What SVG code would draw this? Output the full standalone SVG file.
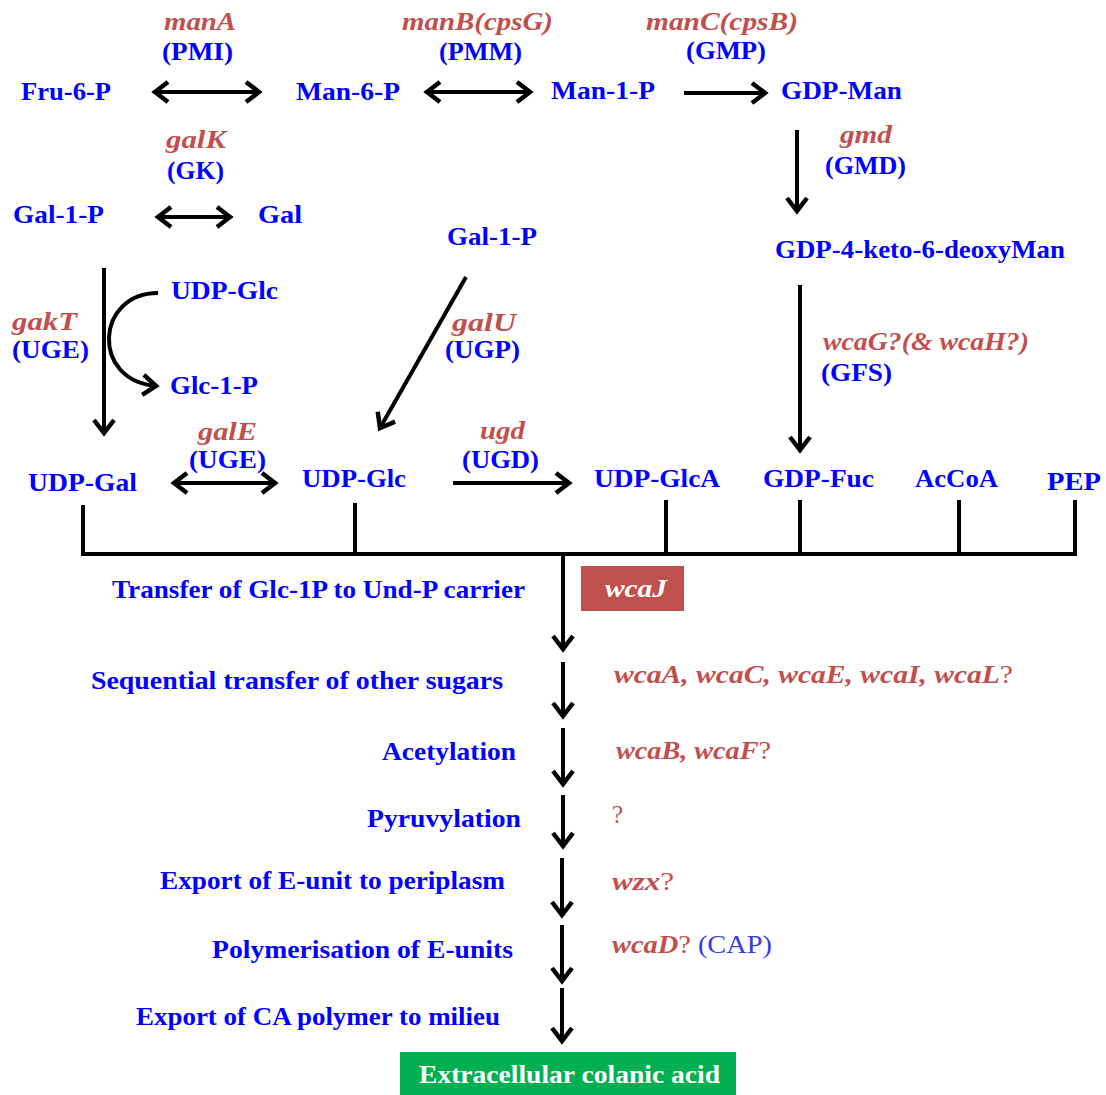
<svg xmlns="http://www.w3.org/2000/svg" width="1106" height="1095" viewBox="0 0 1106 1095">
<style>
text{font-family:"Liberation Serif","Times New Roman",serif;font-size:25px;font-weight:bold}
.n{fill:#0000ff}
.g{fill:#c0504d;font-style:italic}
.q{font-style:normal;font-weight:normal}
.w{fill:#ffffff}
.c{fill:none;stroke:#000;stroke-width:4}
</style>
<defs>
<marker id="ah" viewBox="0 0 18 24" refX="15" refY="12" markerWidth="18" markerHeight="24" orient="auto-start-reverse" markerUnits="userSpaceOnUse" overflow="visible">
<path d="M2,2 L15,12 L2,22" fill="none" stroke="#000" stroke-width="4.5"/>
</marker>
</defs>
<rect width="1106" height="1095" fill="#fff"/>
<g id="connectors">
<line class="c" x1="155" y1="92" x2="259" y2="92" marker-start="url(#ah)" marker-end="url(#ah)"/>
<line class="c" x1="427" y1="92" x2="530" y2="92" marker-start="url(#ah)" marker-end="url(#ah)"/>
<line class="c" x1="684" y1="93" x2="765" y2="93" marker-end="url(#ah)"/>
<line class="c" x1="797" y1="130" x2="797" y2="211" marker-end="url(#ah)"/>
<line class="c" x1="158" y1="217" x2="230" y2="217" marker-start="url(#ah)" marker-end="url(#ah)"/>
<line class="c" x1="104" y1="268" x2="104" y2="433" marker-end="url(#ah)"/>
<path class="c" d="M158,293 C96,293 90,380 156,386" marker-end="url(#ah)"/>
<line class="c" x1="466" y1="277" x2="380" y2="428" marker-end="url(#ah)"/>
<line class="c" x1="174" y1="483" x2="275" y2="483" marker-start="url(#ah)" marker-end="url(#ah)"/>
<line class="c" x1="453" y1="483" x2="569" y2="483" marker-end="url(#ah)"/>
<line class="c" x1="800" y1="285" x2="800" y2="450" marker-end="url(#ah)"/>
<path class="c" d="M83,505 V554 H1077 M355,503 V554 M666,500 V554 M800,500 V554 M959,500 V554 M1075,500 V554"/>
<line class="c" x1="563" y1="556" x2="563" y2="649" marker-end="url(#ah)"/>
<line class="c" x1="563" y1="662" x2="563" y2="716" marker-end="url(#ah)"/>
<line class="c" x1="563" y1="728" x2="563" y2="784" marker-end="url(#ah)"/>
<line class="c" x1="563" y1="795" x2="563" y2="846" marker-end="url(#ah)"/>
<line class="c" x1="562" y1="858" x2="562" y2="915" marker-end="url(#ah)"/>
<line class="c" x1="562" y1="925" x2="562" y2="981" marker-end="url(#ah)"/>
<line class="c" x1="562" y1="988" x2="562" y2="1041" marker-end="url(#ah)"/>
</g>
<g id="lbl-manA"><text class="g" x="164" y="30" textLength="72" lengthAdjust="spacingAndGlyphs">manA</text><text class="n" x="162" y="60" textLength="71" lengthAdjust="spacingAndGlyphs">(PMI)</text></g>
<g id="lbl-manB"><text class="g" x="402" y="30" textLength="151" lengthAdjust="spacingAndGlyphs">manB(cpsG)</text><text class="n" x="439" y="60" textLength="83" lengthAdjust="spacingAndGlyphs">(PMM)</text></g>
<g id="lbl-manC"><text class="g" x="646" y="30" textLength="152" lengthAdjust="spacingAndGlyphs">manC(cpsB)</text><text class="n" x="686" y="59" textLength="80" lengthAdjust="spacingAndGlyphs">(GMP)</text></g>
<g id="n-fru6p"><text class="n" x="21" y="100" textLength="90" lengthAdjust="spacingAndGlyphs">Fru-6-P</text></g>
<g id="n-man6p"><text class="n" x="296" y="100" textLength="104" lengthAdjust="spacingAndGlyphs">Man-6-P</text></g>
<g id="n-man1p"><text class="n" x="551" y="99" textLength="104" lengthAdjust="spacingAndGlyphs">Man-1-P</text></g>
<g id="n-gdpman"><text class="n" x="781" y="99" textLength="121" lengthAdjust="spacingAndGlyphs">GDP-Man</text></g>
<g id="lbl-gmd"><text class="g" x="840" y="143" textLength="52" lengthAdjust="spacingAndGlyphs">gmd</text><text class="n" x="825" y="174" textLength="81" lengthAdjust="spacingAndGlyphs">(GMD)</text></g>
<g id="lbl-galK"><text class="g" x="166" y="148" textLength="60" lengthAdjust="spacingAndGlyphs">galK</text><text class="n" x="167" y="179" textLength="57" lengthAdjust="spacingAndGlyphs">(GK)</text></g>
<g id="n-gal1p-a"><text class="n" x="13" y="223" textLength="91" lengthAdjust="spacingAndGlyphs">Gal-1-P</text></g>
<g id="n-gal"><text class="n" x="258" y="223" textLength="44" lengthAdjust="spacingAndGlyphs">Gal</text></g>
<g id="n-gal1p-b"><text class="n" x="447" y="245" textLength="90" lengthAdjust="spacingAndGlyphs">Gal-1-P</text></g>
<g id="n-gdp4keto"><text class="n" x="775" y="258" textLength="290" lengthAdjust="spacingAndGlyphs">GDP-4-keto-6-deoxyMan</text></g>
<g id="n-udpglc-a"><text class="n" x="171" y="299" textLength="107" lengthAdjust="spacingAndGlyphs">UDP-Glc</text></g>
<g id="lbl-gakT"><text class="g" x="12" y="330" textLength="65" lengthAdjust="spacingAndGlyphs">gakT</text><text class="n" x="12" y="358" textLength="77" lengthAdjust="spacingAndGlyphs">(UGE)</text></g>
<g id="lbl-galU"><text class="g" x="452" y="331" textLength="64" lengthAdjust="spacingAndGlyphs">galU</text><text class="n" x="445" y="358" textLength="75" lengthAdjust="spacingAndGlyphs">(UGP)</text></g>
<g id="lbl-wcaG"><text class="g" x="823" y="350" textLength="206" lengthAdjust="spacingAndGlyphs">wcaG?(&amp; wcaH?)</text><text class="n" x="821" y="381" textLength="71" lengthAdjust="spacingAndGlyphs">(GFS)</text></g>
<g id="n-glc1p"><text class="n" x="170" y="394" textLength="88" lengthAdjust="spacingAndGlyphs">Glc-1-P</text></g>
<g id="lbl-galE"><text class="g" x="198" y="440" textLength="59" lengthAdjust="spacingAndGlyphs">galE</text><text class="n" x="189" y="468" textLength="77" lengthAdjust="spacingAndGlyphs">(UGE)</text></g>
<g id="lbl-ugd"><text class="g" x="480" y="439" textLength="45" lengthAdjust="spacingAndGlyphs">ugd</text><text class="n" x="462" y="468" textLength="77" lengthAdjust="spacingAndGlyphs">(UGD)</text></g>
<g id="n-udpgal"><text class="n" x="28" y="491" textLength="109" lengthAdjust="spacingAndGlyphs">UDP-Gal</text></g>
<g id="n-udpglc-b"><text class="n" x="302" y="487" textLength="104" lengthAdjust="spacingAndGlyphs">UDP-Glc</text></g>
<g id="n-udpglca"><text class="n" x="594" y="487" textLength="126" lengthAdjust="spacingAndGlyphs">UDP-GlcA</text></g>
<g id="n-gdpfuc"><text class="n" x="763" y="487" textLength="111" lengthAdjust="spacingAndGlyphs">GDP-Fuc</text></g>
<g id="n-accoa"><text class="n" x="915" y="487" textLength="83" lengthAdjust="spacingAndGlyphs">AcCoA</text></g>
<g id="n-pep"><text class="n" x="1047" y="490" textLength="54" lengthAdjust="spacingAndGlyphs">PEP</text></g>
<g id="step-transfer"><text class="n" x="112" y="598" textLength="413" lengthAdjust="spacingAndGlyphs">Transfer of Glc-1P to Und-P carrier</text></g>
<g id="gene-wcaJ"><rect x="581" y="566" width="103" height="45" fill="#c0504d"/><text class="w" x="605" y="597" font-style="italic" textLength="62" lengthAdjust="spacingAndGlyphs">wcaJ</text></g>
<g id="step-sequential"><text class="n" x="91" y="689" textLength="412" lengthAdjust="spacingAndGlyphs">Sequential transfer of other sugars</text></g>
<g id="gene-wcaA"><text class="g" x="614" y="683" textLength="399" lengthAdjust="spacingAndGlyphs">wcaA, wcaC, wcaE, wcaI, wcaL<tspan class="q">?</tspan></text></g>
<g id="step-acetylation"><text class="n" x="382" y="760" textLength="134" lengthAdjust="spacingAndGlyphs">Acetylation</text></g>
<g id="gene-wcaB"><text class="g" x="616" y="759" textLength="155" lengthAdjust="spacingAndGlyphs">wcaB, wcaF<tspan class="q">?</tspan></text></g>
<g id="step-pyruvylation"><text class="n" x="367" y="827" textLength="154" lengthAdjust="spacingAndGlyphs">Pyruvylation</text></g>
<g id="gene-pyr"><text class="g q" x="612" y="823" font-size="21">?</text></g>
<g id="step-export"><text class="n" x="160" y="889" textLength="345" lengthAdjust="spacingAndGlyphs">Export of E-unit to periplasm</text></g>
<g id="gene-wzx"><text class="g" x="612" y="890" textLength="62" lengthAdjust="spacingAndGlyphs">wzx<tspan class="q">?</tspan></text></g>
<g id="step-polymer"><text class="n" x="212" y="958" textLength="301" lengthAdjust="spacingAndGlyphs">Polymerisation of E-units</text></g>
<g id="gene-wcaD"><text class="g" x="612" y="953" textLength="160" lengthAdjust="spacingAndGlyphs">wcaD<tspan class="q">? </tspan><tspan class="q" fill="#3a3ae0">(CAP)</tspan></text></g>
<g id="step-exportCA"><text class="n" x="136" y="1025" textLength="364" lengthAdjust="spacingAndGlyphs">Export of CA polymer to milieu</text></g>
<g id="n-colanic"><rect x="400" y="1052" width="336" height="43" fill="#00b050"/><text class="w" x="419" y="1083" font-weight="normal" textLength="301" lengthAdjust="spacingAndGlyphs">Extracellular colanic acid</text></g>
</svg>
